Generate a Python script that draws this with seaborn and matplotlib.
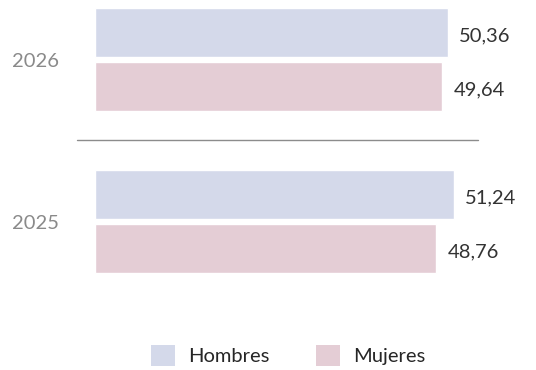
import matplotlib
matplotlib.use("Agg")
import matplotlib.pyplot as plt
from matplotlib.patches import Patch
import seaborn as sns
import pandas as pd

# Population share by sex (%)
years = ["2026", "2025"]
hombres = [50.36, 51.24]
mujeres = [49.64, 48.76]
series = ["Hombres", "Mujeres"]
colors = ["#d4d9ea", "#e4cdd5"]

df = pd.DataFrame({
    "year": years * 2,
    "value": hombres + mujeres,
    "sexo": [series[0]] * len(years) + [series[1]] * len(years),
})

sns.set_theme(style="white")
plt.rcParams["font.family"] = ["Lato", "DejaVu Sans"]

fig = plt.figure(figsize=(5.36, 3.70), dpi=100)
ax = fig.add_axes([0, 0, 1, 1])

sns.barplot(data=df, y="year", x="value", hue="sexo", order=years,
            hue_order=series, palette=colors, orient="h",
            width=0.667, gap=0.093, saturation=1, legend=False, ax=ax)

ax.set_xlim(-13.57, 63.0)
ax.set_ylim(1.917, -0.367)
ax.axis("off")

# value labels at the end of each bar, sitting a touch below the bar centre
for cont in ax.containers:
    for bar in cont:
        w = bar.get_width()
        yc = bar.get_y() + bar.get_height() / 2
        ax.annotate(f"{w:.2f}".replace(".", ","), xy=(w, yc),
                    xytext=(8, -2.5), textcoords="offset points",
                    ha="left", va="center", fontsize=14.5, color="#333333")

# year labels on the left
for i, y in enumerate(years):
    ax.text(-8.43, i + 0.015, y, ha="center", va="center",
            fontsize=14.5, color="#8a8a8a")

# separator between the two years
ax.plot([-2.57, 54.7], [0.497, 0.497], color="#8c8c8c", lw=1)

handles = [Patch(facecolor=c, edgecolor="none") for c in colors]
fig.legend(handles, series, loc="center", bbox_to_anchor=(0.537, 0.04),
           ncol=2, frameon=False, fontsize=14.5, handlelength=1.2,
           handleheight=1.2, handletextpad=0.65, columnspacing=2.3)

fig.savefig("out.png", dpi=100)
